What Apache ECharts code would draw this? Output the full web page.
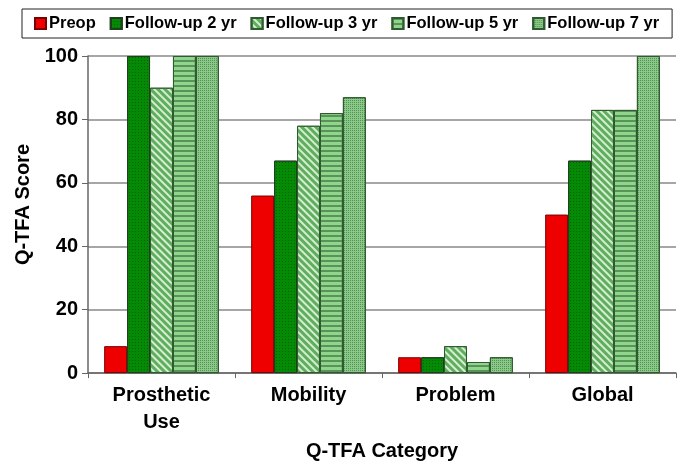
<!DOCTYPE html>
<html>
<head>
<meta charset="utf-8">
<script src="https://cdn.jsdelivr.net/npm/echarts@6/dist/echarts.min.js"></script>
<style>
  html, body { margin: 0; padding: 0; background: #fff; }
  #chart { width: 686px; height: 466px; }
</style>
</head>
<body>
<div id="chart"></div>
<script>
// categories and series values
const categories = ['Prosthetic\nUse', 'Mobility', 'Problem', 'Global'];
const preop = [8.5, 56, 5, 50];
const followUp2 = [100, 67, 5, 67];
const followUp3 = [90, 78, 8.5, 83];
const followUp5 = [100, 82, 3.5, 83];
const followUp7 = [100, 87, 5, 100];
const yTicks = [0, 20, 40, 60, 80, 100];

const font = 'Liberation Sans, Arial, sans-serif';

function barSeries(name, data, color, border, decal) {
  let s = {
    name: name,
    type: 'bar',
    data: data,
    barGap: '0%',
    barCategoryGap: '22%',
    itemStyle: {
      color: color,
      borderColor: border,
      borderWidth: 1
    }
  };
  if (decal) s.itemStyle.decal = decal;
  return s;
}

let series = [
  barSeries('Preop', preop, '#ee0000', '#7a0000', null),
  barSeries('Follow-up 2 yr', followUp2, '#058a05', '#1f3f1f', {
    symbol: 'rect', color: 'rgba(0,70,0,0.55)', dashArrayX: [1, 2], dashArrayY: [1, 2], symbolSize: 1
  }),
  barSeries('Follow-up 3 yr', followUp3, '#d6eed0', '#2f5a2f', {
    symbol: 'rect', color: '#5fae5f', dashArrayX: [1, 0], dashArrayY: [3, 2], rotation: Math.PI / 4, symbolSize: 1
  }),
  barSeries('Follow-up 5 yr', followUp5, '#8fd68c', '#2f5a2f', {
    symbol: 'rect', color: '#5a935a', dashArrayX: [1, 0], dashArrayY: [2, 3], symbolSize: 1
  }),
  barSeries('Follow-up 7 yr', followUp7, '#8cc88a', '#2f5a2f', {
    symbol: 'rect', color: 'rgba(40,110,40,0.6)', dashArrayX: [1, 1], dashArrayY: [1, 1], symbolSize: 1
  })
];

let option = {
  animation: false,
  backgroundColor: '#fff',
  legend: {
    top: 9,
    left: 22,
    width: 630,
    padding: [6, 13, 6, 12],
    borderColor: '#222',
    borderWidth: 1,
    itemWidth: 11,
    itemHeight: 11,
    itemGap: 14,
    icon: 'rect',
    textStyle: { fontFamily: font, fontSize: 16.5, fontWeight: 'bold', color: '#000', padding: [0, 0, 0, -2] },
    data: series.map(s => s.name)
  },
  grid: { left: 88, right: 10, top: 56, bottom: 91 },
  xAxis: {
    type: 'category',
    data: categories,
    name: 'Q-TFA Category',
    nameLocation: 'middle',
    nameGap: 66,
    nameTextStyle: { fontFamily: font, fontSize: 20, fontWeight: 'bold', color: '#000' },
    axisLine: { lineStyle: { color: '#666', width: 1.5 } },
    axisTick: { show: true, length: 5, lineStyle: { color: '#666' } },
    axisLabel: { fontFamily: font, fontSize: 20, fontWeight: 'bold', color: '#000', margin: 9, lineHeight: 27 }
  },
  yAxis: {
    type: 'value',
    min: yTicks[0],
    max: yTicks[yTicks.length - 1],
    interval: 20,
    name: 'Q-TFA Score',
    nameLocation: 'middle',
    nameGap: 55,
    nameTextStyle: { fontFamily: font, fontSize: 20, fontWeight: 'bold', color: '#000', padding: [0, 0, 0, 20] },
    axisLine: { show: true, lineStyle: { color: '#666', width: 1.5 } },
    axisTick: { show: true, length: 6, lineStyle: { color: '#666' } },
    axisLabel: { fontFamily: font, fontSize: 20, fontWeight: 'bold', color: '#000', margin: 10 },
    splitLine: { lineStyle: { color: '#888', width: 1.5 } }
  },
  series: series
};

let myChart = echarts.init(document.getElementById('chart'));
myChart.setOption(option);
</script>
</body>
</html>
